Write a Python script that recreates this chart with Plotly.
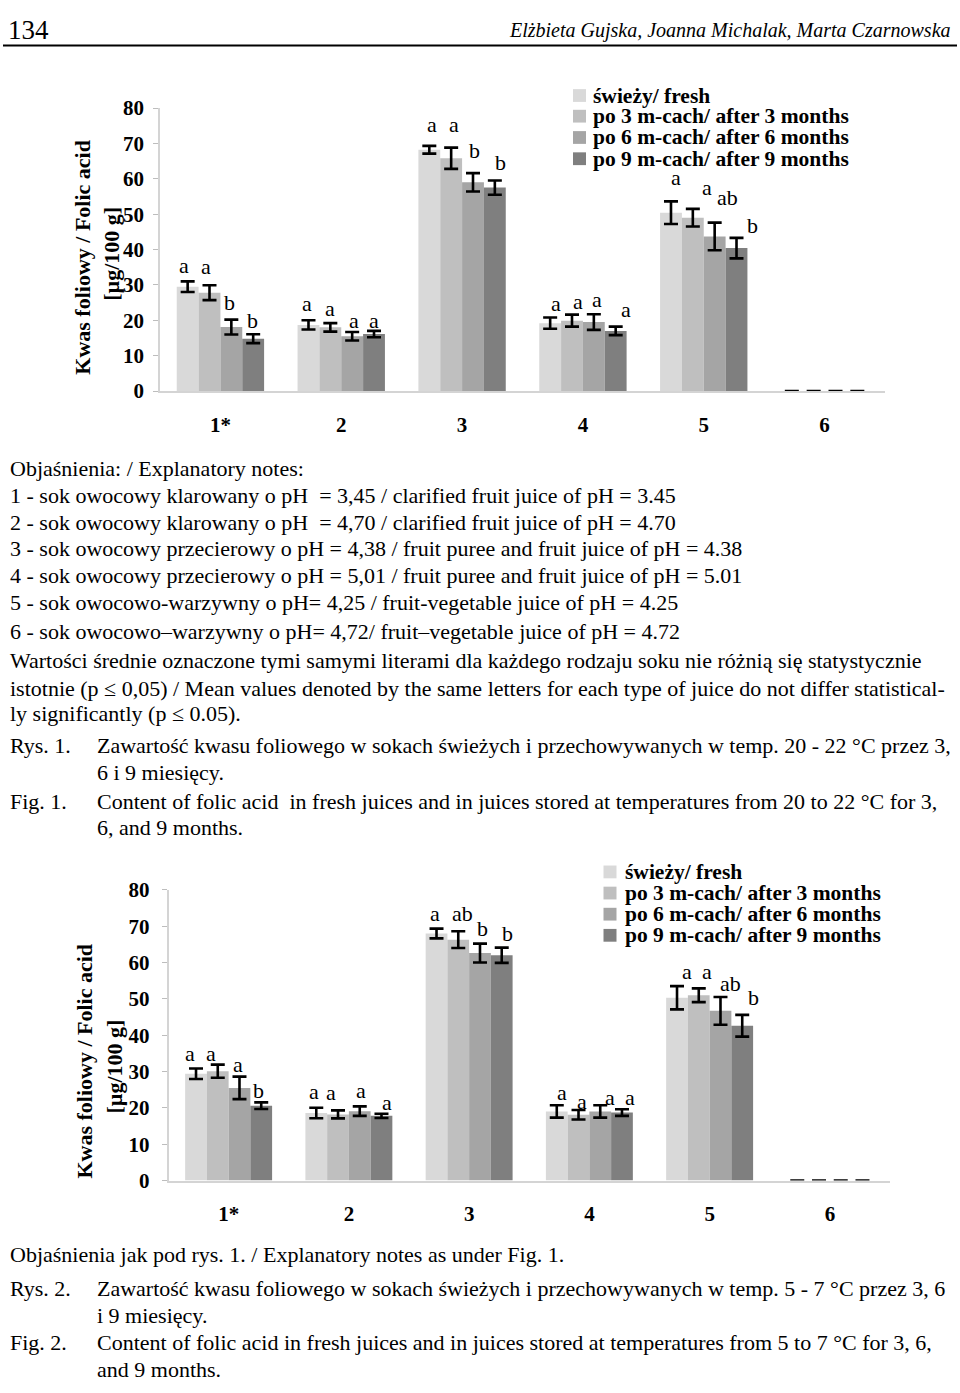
import plotly.graph_objects as go

W, H = 960, 1393

# ---------------- data ----------------
CATEGORIES = ["1*", "2", "3", "4", "5", "6"]
SERIES = ["świeży/ fresh", "po 3 m-cach/ after 3 months",
          "po 6 m-cach/ after 6 months", "po 9 m-cach/ after 9 months"]

# Fig. 1 (20-22 °C)
F1_FRESH = [29.5, 18.7, 68.2, 19.2, 50.4, 0]
F1_M3 = [27.8, 18.0, 65.8, 19.9, 49.0, 0]
F1_M6 = [18.1, 15.5, 59.0, 19.5, 43.7, 0]
F1_M9 = [14.8, 16.1, 57.5, 17.0, 40.4, 0]
F1_FRESH_ERR = [1.5, 1.3, 1.1, 1.6, 3.2, 0]
F1_M3_ERR = [2.1, 1.2, 3.0, 1.7, 2.5, 0]
F1_M6_ERR = [2.1, 1.2, 2.6, 2.2, 3.9, 0]
F1_M9_ERR = [1.25, 0.9, 2.0, 1.2, 2.9, 0]
F1_FRESH_LET = ["a", "a", "a", "a", "a", ""]
F1_M3_LET = ["a", "a", "a", "a", "a", ""]
F1_M6_LET = ["b", "a", "b", "a", "ab", ""]
F1_M9_LET = ["b", "a", "b", "a", "b", ""]

# Fig. 2 (5-7 °C)
F2_FRESH = [29.4, 18.6, 68.0, 19.0, 50.3, 0]
F2_M3 = [30.1, 18.2, 66.3, 18.1, 51.0, 0]
F2_M6 = [25.5, 19.1, 62.6, 19.0, 46.7, 0]
F2_M9 = [20.6, 17.8, 62.0, 18.7, 42.6, 0]
F2_FRESH_ERR = [1.45, 1.45, 1.35, 1.7, 3.2, 0]
F2_M3_ERR = [1.8, 1.1, 2.3, 1.3, 1.9, 0]
F2_M6_ERR = [3.1, 1.3, 2.6, 1.7, 3.8, 0]
F2_M9_ERR = [0.9, 0.6, 2.1, 0.9, 3.0, 0]
F2_FRESH_LET = ["a", "a", "a", "a", "a", ""]
F2_M3_LET = ["a", "a", "ab", "a", "a", ""]
F2_M6_LET = ["a", "a", "b", "a", "ab", ""]
F2_M9_LET = ["b", "a", "b", "a", "b", ""]

Y_TICKS = [0, 10, 20, 30, 40, 50, 60, 70, 80]

# ---------------- styling ----------------
COLORS = ["#d9d9d9", "#bfbfbf", "#a5a5a5", "#7f7f7f"]
SERIF = "Liberation Serif"
BARGAP = 0.277

# letter label nudges (px): per series, per group
F1_DX = [[-4, -1, 3, 6, 5, 0], [-4, 0, 3, 6, 14, 0], [-2, 2, 1, 3, 13, 0], [-1, 0, 6, 10, 16, 0]]
F1_DY = [[14, 15, 19, 12, 22, 0], [17, 13, 21, 11, 19, 0], [15, 9, 21, 13, 23, 0], [12, 8, 16, 15, 10, 0]]
F2_DX = [[-6, -2, -2, 5, 10, 0], [-7, -7, 4, 3, 8, 0], [-1, 1, 3, 10, 10, 0], [-3, 6, 6, 8, 11, 0]]
F2_DY = [[13, 14, 13, 11, 13, 0], [9, 16, 16, 7, 15, 0], [10, 14, 13, 6, 12, 0], [10, 9, 12, 10, 15, 0]]


def px(x):
    return x / W


def py(y):
    return 1 - y / H


fig = go.Figure()

charts = [
    dict(vals=[F1_FRESH, F1_M3, F1_M6, F1_M9],
         errs=[F1_FRESH_ERR, F1_M3_ERR, F1_M6_ERR, F1_M9_ERR],
         lets=[F1_FRESH_LET, F1_M3_LET, F1_M6_LET, F1_M9_LET],
         dx=F1_DX, dy=F1_DY, xa="x", ya="y"),
    dict(vals=[F2_FRESH, F2_M3, F2_M6, F2_M9],
         errs=[F2_FRESH_ERR, F2_M3_ERR, F2_M6_ERR, F2_M9_ERR],
         lets=[F2_FRESH_LET, F2_M3_LET, F2_M6_LET, F2_M9_LET],
         dx=F2_DX, dy=F2_DY, xa="x2", ya="y2"),
]

annotations = []
bw = (1 - BARGAP) / 4
for c in charts:
    for i, name in enumerate(SERIES):
        fig.add_trace(go.Bar(
            x=CATEGORIES, y=c["vals"][i], name=name,
            marker=dict(color=COLORS[i], line=dict(width=0)),
            error_y=dict(type="data", array=c["errs"][i], visible=True,
                         color="black", thickness=2.6, width=7),
            xaxis=c["xa"], yaxis=c["ya"], showlegend=False,
        ))
        for k, cat in enumerate(CATEGORIES):
            t = c["lets"][i][k]
            if not t:
                continue
            annotations.append(dict(
                x=k + (i - 1.5) * bw, y=c["vals"][i][k] + c["errs"][i][k],
                xref=c["xa"], yref=c["ya"], text=t, showarrow=False,
                xanchor="center", yanchor="middle",
                xshift=c["dx"][i][k], yshift=c["dy"][i][k] + 2,
                font=dict(family=SERIF, size=22, color="black"),
            ))

axis_common = dict(showgrid=False, zeroline=False, showline=True,
                   linecolor="#d4d4d4", linewidth=1.5)
tickfont = dict(family=SERIF, size=21, color="black", weight="bold")

fig.update_layout(
    width=W, height=H, margin=dict(l=0, r=0, t=0, b=0),
    paper_bgcolor="white", plot_bgcolor="white",
    barmode="group", bargap=BARGAP, bargroupgap=0,
    showlegend=False,
    xaxis=dict(domain=[px(160), px(885)], anchor="y", type="category",
               range=[-0.5, 5.5], ticks="", tickfont=tickfont,
               ticklabelstandoff=14, **axis_common),
    yaxis=dict(domain=[py(385.7), py(97.7)], anchor="x", range=[0, 80],
               tickvals=Y_TICKS, ticks="outside", ticklen=5, tickcolor="#bdbdbd",
               tickfont=tickfont, ticklabelstandoff=5, **axis_common),
    xaxis2=dict(domain=[px(168.5), px(890)], anchor="y2", type="category",
                range=[-0.5, 5.5], ticks="", tickfont=tickfont,
                ticklabelstandoff=14, **axis_common),
    yaxis2=dict(domain=[py(1189), py(893.3)], anchor="x2", range=[0, 80],
                tickvals=Y_TICKS, ticks="outside", ticklen=5, tickcolor="#bdbdbd",
                tickfont=tickfont, ticklabelstandoff=8, **axis_common),
)

shapes = []

# y-axis titles
for (x1, y1, x2, y2) in [(83, 250, 112, 246), (85, 1068, 115, 1073)]:
    annotations.append(dict(x=px(x1), y=py(y1), xref="paper", yref="paper",
                            text="Kwas foliowy / Folic acid", textangle=-90,
                            showarrow=False, xanchor="center", yanchor="middle",
                            font=dict(family=SERIF, size=22, color="black", weight="bold")))
    annotations.append(dict(x=px(x2), y=py(y2), xref="paper", yref="paper",
                            text="[µg/100 g]", textangle=-90,
                            showarrow=False, xanchor="center", yanchor="middle",
                            font=dict(family=SERIF, size=22, color="black", weight="bold")))

# legends
for (sx, tx, rows) in [(573, 591, [85, 106, 127.7, 149.3]), (603.5, 623, [875, 896.5, 918, 939.5])]:
    for i, name in enumerate(SERIES):
        yc = rows[i]
        shapes.append(dict(type="rect", xref="paper", yref="paper",
                           x0=px(sx), x1=px(sx + 13), y0=py(yc + 6.5), y1=py(yc - 6.5),
                           fillcolor=COLORS[i], line=dict(width=0)))
        annotations.append(dict(x=px(tx), y=py(yc), xref="paper", yref="paper",
                                text=name, showarrow=False, xanchor="left", yanchor="middle",
                                font=dict(family=SERIF, size=21.5, color="black", weight="bold")))

# header
annotations.append(dict(x=px(6), y=py(18), xref="paper", yref="paper", text="134",
                        showarrow=False, xanchor="left", yanchor="middle",
                        font=dict(family=SERIF, size=27, color="black")))
annotations.append(dict(x=px(953), y=py(19), xref="paper", yref="paper",
                        text="<i>Elżbieta Gujska, Joanna Michalak, Marta Czarnowska</i>",
                        showarrow=False, xanchor="right", yanchor="middle",
                        font=dict(family=SERIF, size=20, color="black")))
shapes.append(dict(type="line", xref="paper", yref="paper", x0=px(3), x1=px(957),
                   y0=py(34), y1=py(34), line=dict(color="black", width=2)))

# caption text
NOTES = [
    (8, 465, "Objaśnienia: / Explanatory notes:"),
    (8, 492, "1 - sok owocowy klarowany o pH  = 3,45 / clarified fruit juice of pH = 3.45"),
    (8, 519, "2 - sok owocowy klarowany o pH  = 4,70 / clarified fruit juice of pH = 4.70"),
    (8, 546, "3 - sok owocowy przecierowy o pH = 4,38 / fruit puree and fruit juice of pH = 4.38"),
    (8, 573, "4 - sok owocowy przecierowy o pH = 5,01 / fruit puree and fruit juice of pH = 5.01"),
    (8, 601, "5 - sok owocowo-warzywny o pH= 4,25 / fruit-vegetable juice of pH = 4.25"),
    (8, 630, "6 - sok owocowo–warzywny o pH= 4,72/ fruit–vegetable juice of pH = 4.72"),
    (8, 660, "Wartości średnie oznaczone tymi samymi literami dla każdego rodzaju soku nie różnią się statystycznie"),
    (8, 688, "istotnie (p ≤ 0,05) / Mean values denoted by the same letters for each type of juice do not differ statistical-"),
    (8, 714, "ly significantly (p ≤ 0.05)."),
    (8, 746, "Rys. 1."),
    (95, 746, "Zawartość kwasu foliowego w sokach świeżych i przechowywanych w temp. 20 - 22 °C przez 3,"),
    (95, 774, "6 i 9 miesięcy."),
    (8, 803, "Fig. 1."),
    (95, 803, "Content of folic acid  in fresh juices and in juices stored at temperatures from 20 to 22 °C for 3,"),
    (95, 830, "6, and 9 months."),
    (8, 1264, "Objaśnienia jak pod rys. 1. / Explanatory notes as under Fig. 1."),
    (8, 1299, "Rys. 2."),
    (95, 1299, "Zawartość kwasu foliowego w sokach świeżych i przechowywanych w temp. 5 - 7 °C przez 3, 6"),
    (95, 1326, "i 9 miesięcy."),
    (8, 1354, "Fig. 2."),
    (95, 1354, "Content of folic acid in fresh juices and in juices stored at temperatures from 5 to 7 °C for 3, 6,"),
    (95, 1381, "and 9 months."),
]
for (x, y, t) in NOTES:
    annotations.append(dict(x=px(x), y=py(y), xref="paper", yref="paper", text=t,
                            showarrow=False, xanchor="left", yanchor="middle",
                            font=dict(family=SERIF, size=22, color="black")))

fig.update_layout(annotations=annotations, shapes=shapes)

POST = (
    "document.documentElement.style.margin='0';"
    "document.documentElement.style.overflow='hidden';"
    "document.body.style.margin='0';document.body.style.overflow='hidden';"
    "var d=document.getElementsByClassName('plotly-graph-div')[0];"
    "d.style.position='fixed';d.style.top='0px';d.style.left='0px';"
)
fig.write_html("out.html", config={"displayModeBar": False}, post_script=POST)
